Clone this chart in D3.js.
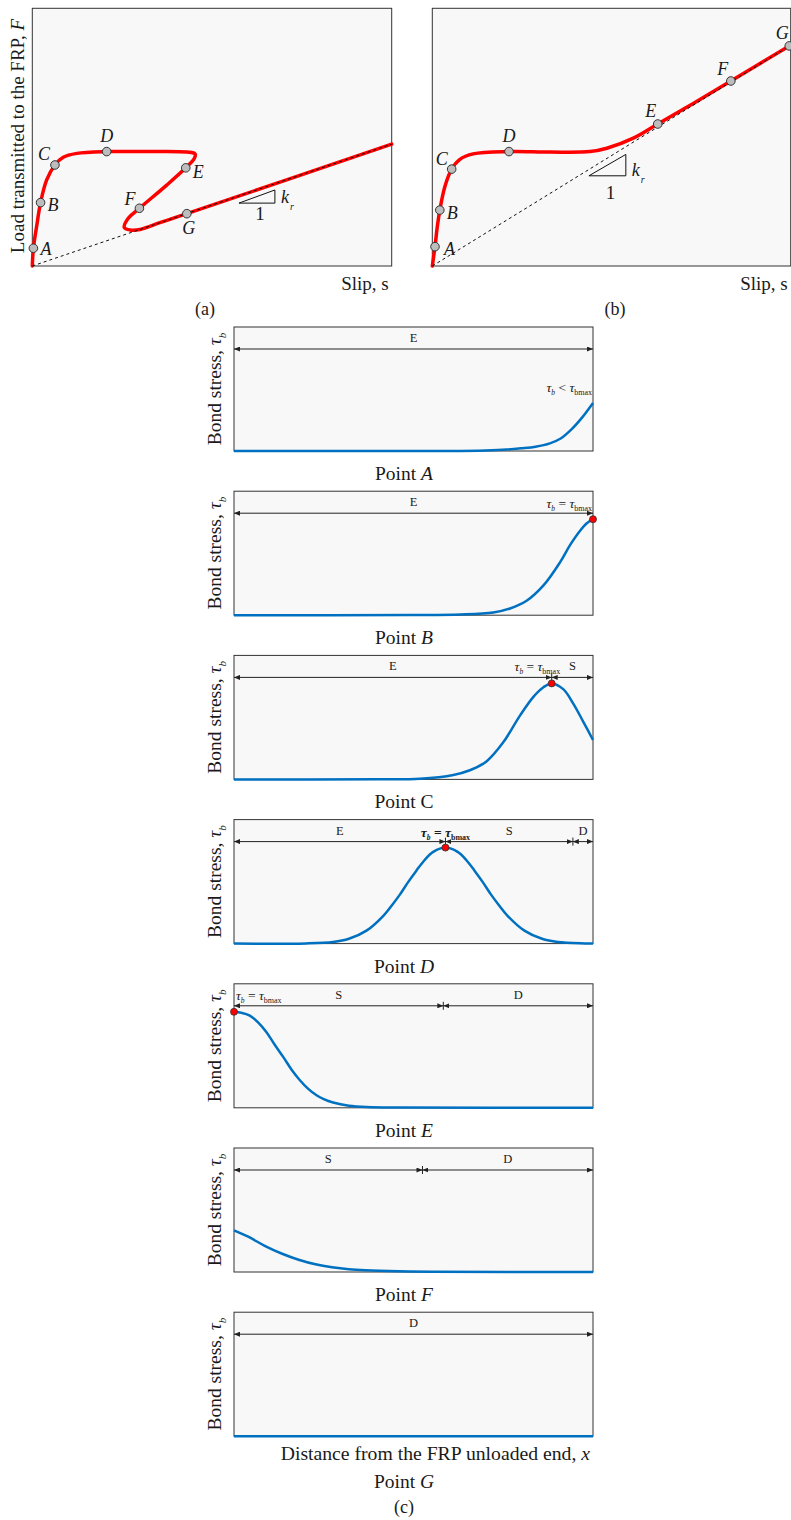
<!DOCTYPE html>
<html lang="en">
<head>
<meta charset="UTF-8">
<title>FRP bond: load-slip and bond stress</title>
<script src="https://d3js.org/d3.v7.min.js"></script>
<style>
  body { margin: 0; background: #fff; }
  svg { display: block; font-family: "Liberation Serif", "DejaVu Serif", serif; fill: #1a1a1a; }
  .frame { fill: #f8f8f8; stroke: #333; stroke-width: 1; }
  .load { fill: none; stroke: #ff0000; stroke-width: 3.5; stroke-linejoin: round; stroke-linecap: round; }
  .unload { fill: none; stroke: #111; stroke-width: 1; stroke-dasharray: 3,3; }
  .marker { fill: #bdbdbd; stroke: #333; stroke-width: 1; }
  .ptlabel { font-size: 18px; font-style: italic; }
  .stress { fill: none; stroke: #0070c0; stroke-width: 2.5; }
  .zone { stroke: #222; stroke-width: 1; fill: none; }
  .zonelabel { font-size: 12.5px; text-anchor: middle; }
  .peak { fill: #ff0000; stroke: #333; stroke-width: 0.8; }
</style>
</head>
<body>
<svg id="chart" width="791" height="1520"></svg>
<script>
// ---- (a) load vs slip, both in % of the frame ----
var slipA = [0, 0.3, 1.2, 2.3, 4.0, 6.3, 8.6, 12.4, 20.7, 32.7, 43.0, 45.3, 45.1, 42.7, 37.4, 29.8, 26.7, 25.6, 27.2, 30.0, 35.5, 43.0, 100];
var loadA = [0, 6.9, 15.3, 24.6, 33.4, 39.2, 42.2, 43.7, 44.4, 44.4, 44.2, 43.5, 41.8, 38.1, 31.4, 22.4, 18.5, 14.9, 14.0, 14.2, 16.8, 20.3, 47.3];
var ptSlipA = [0.3, 2.3, 6.3, 20.7, 42.7, 29.8, 43.0];
var ptLoadA = [6.9, 24.6, 39.2, 44.4, 38.1, 22.4, 20.3];
var unloadEndA = [100, 47.3];

// ---- (b) ----
var slipB = [0, 0.75, 1.4, 2.1, 3.5, 5.4, 7.7, 11.4, 21.4, 32.8, 44.0, 48.7, 56.1, 62.9, 72.8, 83.3, 99.6];
var loadB = [0, 7.5, 15.3, 21.7, 30.8, 37.6, 41.4, 43.5, 44.4, 44.2, 44.4, 45.7, 49.6, 55.1, 63.1, 71.8, 85.4];
var ptSlipB = [0.75, 2.1, 5.4, 21.4, 62.9, 83.3, 99.6];
var ptLoadB = [7.5, 21.7, 37.6, 44.4, 55.1, 71.8, 85.4];
var unloadEndB = [100, 85.7];

var pointNames = ["A", "B", "C", "D", "E", "F", "G"];

// ---- (c) bond stress along the bond length (x: 0..1, tau / tau_bmax) ----
var stressA = [[0, 0], [0.6, 0.001], [0.7, 0.006], [0.76, 0.015], [0.8, 0.028], [0.84, 0.045], [0.88, 0.08],
               [0.91, 0.13], [0.94, 0.225], [0.97, 0.35], [1, 0.5]];
var stressB = [[0, 0], [0.5, 0.001], [0.63, 0.007], [0.722, 0.028], [0.769, 0.07], [0.815, 0.15], [0.862, 0.31],
               [0.908, 0.55], [0.936, 0.73], [0.964, 0.88], [0.982, 0.955], [1, 1]];
var stressC = [[0, 0], [0.4, 0.001], [0.518, 0.007], [0.611, 0.046], [0.657, 0.095], [0.704, 0.19], [0.75, 0.386],
               [0.797, 0.667], [0.834, 0.86], [0.862, 0.96], [0.885, 1], [0.917, 0.94], [0.945, 0.79], [0.973, 0.6], [1, 0.41]];
var stressD = [[0, 0], [0.2, 0.002], [0.276, 0.017], [0.32, 0.05], [0.369, 0.135], [0.416, 0.29], [0.44, 0.4], [0.462, 0.51],
               [0.485, 0.64], [0.508, 0.76], [0.53, 0.866], [0.555, 0.955], [0.589, 1],
               [0.623, 0.955], [0.648, 0.866], [0.67, 0.76], [0.693, 0.64], [0.716, 0.51], [0.738, 0.4], [0.762, 0.29],
               [0.809, 0.135], [0.858, 0.05], [0.902, 0.017], [0.978, 0.002], [1, 0]];
var stressE = [[0, 1], [0.02, 0.99], [0.044, 0.96], [0.067, 0.89], [0.09, 0.79], [0.113, 0.66], [0.137, 0.53], [0.16, 0.4],
               [0.183, 0.29], [0.206, 0.2], [0.23, 0.13], [0.25, 0.09], [0.276, 0.055], [0.32, 0.022], [0.369, 0.008], [0.46, 0.002], [1, 0]];
var stressF = [[0, 0.434], [0.041, 0.365], [0.087, 0.27], [0.134, 0.19], [0.18, 0.128], [0.227, 0.08], [0.273, 0.049],
               [0.32, 0.028], [0.366, 0.017], [0.459, 0.007], [0.552, 0.003], [1, 0]];
var stressG = [[0, 0], [1, 0]];
var stressCurves = [stressA, stressB, stressC, stressD, stressE, stressF, stressG];

var zones = [
  [["E", 0, 1]],
  [["E", 0, 1]],
  [["E", 0, 0.885], ["S", 0.885, 1]],
  [["E", 0, 0.589], ["S", 0.589, 0.944], ["D", 0.944, 1]],
  [["S", 0, 0.583], ["D", 0.583, 1]],
  [["S", 0, 0.525], ["D", 0.525, 1]],
  [["D", 0, 1]]
];
var peakX = [null, 1, 0.885, 0.589, 0, null, null];
var tauSign = ["<", "=", "=", "=", "=", null, null];

var svg = d3.select("#chart");

var defs = svg.append("defs");
defs.append("marker")
  .attr("id", "arr")
  .attr("viewBox", "0 0 6 5")
  .attr("refX", 6).attr("refY", 2.5)
  .attr("markerWidth", 6).attr("markerHeight", 5)
  .attr("markerUnits", "userSpaceOnUse")
  .attr("orient", "auto-start-reverse")
  .append("path").attr("d", "M0,0L6,2.5L0,5Z").attr("fill", "#222");

var curveLine = d3.line().curve(d3.curveCatmullRom.alpha(0.5));

function drawLoadSlip(box, slip, load, ptSlip, ptLoad, unloadEnd, tri, offs, note) {
  var x = d3.scaleLinear().domain([0, 100]).range([box.x0, box.x1]);
  var y = d3.scaleLinear().domain([0, 100]).range([box.y1, box.y0]);
  var g = svg.append("g");
  g.append("rect").attr("class", "frame")
    .attr("x", box.x0).attr("y", box.y0)
    .attr("width", box.x1 - box.x0).attr("height", box.y1 - box.y0);

  g.append("path").attr("class", "load")
    .attr("d", curveLine(slip.map((s, i) => [x(s), y(load[i])])));
  g.append("line").attr("class", "unload")
    .attr("x1", x(0)).attr("y1", y(0))
    .attr("x2", x(unloadEnd[0])).attr("y2", y(unloadEnd[1]));

  // stiffness triangle
  g.append("path").attr("fill", "none").attr("stroke", "#111").attr("stroke-width", 1)
    .attr("d", "M" + x(tri[0]) + "," + y(tri[2]) + "L" + x(tri[1]) + "," + y(tri[2]) +
               "L" + x(tri[1]) + "," + y(tri[3]) + "Z");
  g.append("text").attr("x", (x(tri[0]) + x(tri[1])) / 2 + 3).attr("y", y(tri[2]) + tri[4])
    .attr("text-anchor", "middle").attr("font-size", 19).text("1");
  var k = g.append("text").attr("x", x(tri[1]) + 6).attr("y", y(tri[2]))
    .attr("font-size", 18).attr("font-style", "italic");
  k.append("tspan").text("k");
  k.append("tspan").attr("dx", 1).attr("dy", 7).attr("font-size", 10).text("r");

  pointNames.forEach((p, i) => {
    var cx = x(ptSlip[i]), cy = y(ptLoad[i]);
    g.append("circle").attr("class", "marker").attr("cx", cx).attr("cy", cy).attr("r", 4.3);
    g.append("text").attr("class", "ptlabel")
      .attr("x", cx + offs[i][0]).attr("y", cy + offs[i][1])
      .attr("text-anchor", offs[i][2]).text(p);
  });

  g.append("text").attr("x", box.x1 - 3).attr("y", 290).attr("text-anchor", "end")
    .attr("font-size", 19).text("Slip, s");
  g.append("text").attr("x", note[0]).attr("y", 315).attr("text-anchor", "middle")
    .attr("font-size", 18).text(note[1]);
}

drawLoadSlip({x0: 32.3, x1: 391.7, y0: 8.3, y1: 266}, slipA, loadA, ptSlipA, ptLoadA, unloadEndA,
  [57.5, 67.5, 24.4, 29.5, 17],
  [[7, 7, "start"], [7, 8, "start"], [-5, -5, "end"], [0, -10, "middle"], [7, 10, "start"], [-4, -3, "end"], [2, 20, "middle"]],
  [205, "(a)"]);
drawLoadSlip({x0: 432.3, x1: 790.7, y0: 8.3, y1: 266}, slipB, loadB, ptSlipB, ptLoadB, unloadEndB,
  [43.7, 54.0, 35.0, 43.3, 23],
  [[9, 8, "start"], [7, 9, "start"], [-4, -4, "end"], [0, -10, "middle"], [-7, -7, "middle"], [-8, -6, "middle"], [-7, -7, "middle"]],
  [615, "(b)"]);

// y label of (a)
var yl = svg.append("text").attr("transform", "translate(24,136) rotate(-90)")
  .attr("text-anchor", "middle").attr("font-size", 19);
yl.append("tspan").text("Load transmitted to the FRP, ");
yl.append("tspan").attr("font-style", "italic").text("F");

// ---- (c) ----
var panelTop0 = 327, panelStep = 164.2, panelH = 124;
var cx0 = 234, cx1 = 593;
var stressLine = d3.line().curve(d3.curveCatmullRom.alpha(0.5));
var notePos = [
  {x: 1, anchor: "end", dx: -1, base: 65},
  {x: 1, anchor: "end", dx: -1, base: 17},
  {x: 0.845, anchor: "middle", dx: 0, base: 16},
  {x: 0.589, anchor: "middle", dx: 0, base: 17, bold: true},
  {x: 0, anchor: "start", dx: 2, base: 16}
];

stressCurves.forEach((curve, i) => {
  var top = panelTop0 + i * panelStep, bottom = top + panelH;
  var x = d3.scaleLinear().domain([0, 1]).range([cx0, cx1]);
  var y = d3.scaleLinear().domain([0, 1]).range([bottom, top + 28]);
  var g = svg.append("g");

  g.append("rect").attr("class", "frame")
    .attr("x", cx0).attr("y", top).attr("width", cx1 - cx0).attr("height", panelH);

  var ay = top + 22;
  zones[i].forEach(z => {
    g.append("line").attr("class", "zone")
      .attr("x1", x(z[1])).attr("x2", x(z[2])).attr("y1", ay).attr("y2", ay)
      .attr("marker-start", "url(#arr)").attr("marker-end", "url(#arr)");
    g.append("text").attr("class", "zonelabel")
      .attr("x", (x(z[1]) + x(z[2])) / 2).attr("y", top + 15).text(z[0]);
    if (z[1] > 0) {
      g.append("line").attr("class", "zone")
        .attr("x1", x(z[1])).attr("x2", x(z[1])).attr("y1", ay - 4).attr("y2", ay + 4);
    }
  });

  g.append("path").attr("class", "stress").attr("d", stressLine(curve.map(d => [x(d[0]), y(d[1])])));

  if (peakX[i] !== null) {
    g.append("circle").attr("class", "peak").attr("cx", x(peakX[i])).attr("cy", y(1)).attr("r", 3.5);
  }

  if (tauSign[i]) {
    var np = notePos[i];
    var t = g.append("text").attr("x", x(np.x) + np.dx).attr("y", top + np.base)
      .attr("text-anchor", np.anchor).attr("font-size", 13.5)
      .attr("font-weight", np.bold ? "bold" : null);
    t.append("tspan").attr("font-style", "italic").text("τ");
    t.append("tspan").attr("font-style", "italic").attr("font-size", 7.5).attr("dy", 3).text("b");
    t.append("tspan").attr("dy", -3).text(" " + tauSign[i] + " ");
    t.append("tspan").attr("font-style", "italic").text("τ");
    t.append("tspan").attr("font-size", 8).attr("dy", 3).text("bmax");
  }

  var lab = g.append("text").attr("transform", "translate(221," + (top + 62) + ") rotate(-90)")
    .attr("text-anchor", "middle").attr("font-size", 19.5);
  lab.append("tspan").text("Bond stress, ");
  lab.append("tspan").attr("font-style", "italic").text("τ");
  lab.append("tspan").attr("font-style", "italic").attr("font-size", 11).attr("dy", 5).text("b");

  var extra = i === 6 ? 52 : 29;
  var pl = g.append("text").attr("x", 404).attr("y", bottom + extra)
    .attr("text-anchor", "middle").attr("font-size", 19.5);
  pl.append("tspan").text("Point ");
  pl.append("tspan").attr("font-style", pointNames[i] === "C" ? null : "italic").text(pointNames[i]);

  if (i === 6) {
    var xl = g.append("text").attr("x", 590).attr("y", bottom + 24)
      .attr("text-anchor", "end").attr("font-size", 19.7);
    xl.append("tspan").text("Distance from the FRP unloaded end, ");
    xl.append("tspan").attr("font-style", "italic").text("x");
    g.append("text").attr("x", 404).attr("y", bottom + 77)
      .attr("text-anchor", "middle").attr("font-size", 18).text("(c)");
  }
});
</script>
</body>
</html>
